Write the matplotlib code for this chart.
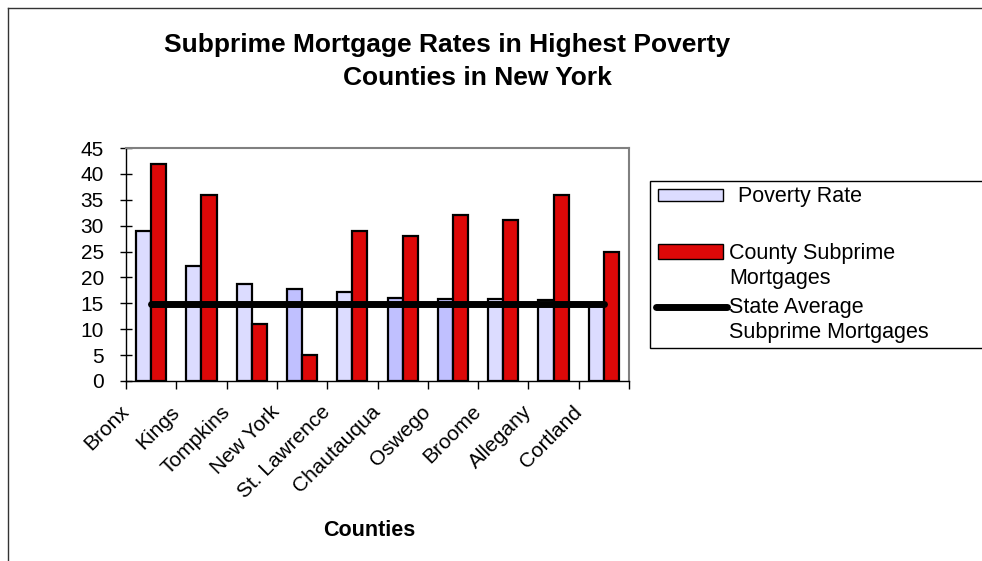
import matplotlib.pyplot as plt
import matplotlib.transforms as mtransforms
from matplotlib.patches import Rectangle
from matplotlib.lines import Line2D
import numpy as np

# chart data
counties = ['Bronx', 'Kings', 'Tompkins', 'New York', 'St. Lawrence',
            'Chautauqua', 'Oswego', 'Broome', 'Allegany', 'Cortland']
poverty_rate = [29.0, 22.3, 18.7, 17.8, 17.2, 16.1, 15.9, 15.8, 15.7, 15.0]
county_subprime = [42, 36, 11, 5, 29, 28, 32, 31, 36, 25]
state_average = [14.8] * len(counties)
yticks = [0, 5, 10, 15, 20, 25, 30, 35, 40, 45]

light = '#DCDCFF'
darker = '#C0C0FF'
poverty_colors = [light, light, light, darker, light, darker, darker, light, light, light]
red = '#DD0808'

plt.rcParams['font.family'] = ['Liberation Sans', 'DejaVu Sans']

W, H = 982, 561
fig = plt.figure(figsize=(W / 100, H / 100), dpi=100)


def fx(px):
    return px / W


def fy(py):
    return 1 - py / H


# outer chart border (only top/left visible in the crop)
fig.add_artist(Line2D([fx(8), 1.0], [fy(8), fy(8)], color='#333333', lw=1.0))
fig.add_artist(Line2D([fx(8), fx(8)], [0, fy(8)], color='#333333', lw=1.0))

ax = fig.add_axes([fx(126), fy(381), fx(629 - 126), (381 - 148) / H])

x = np.arange(len(counties))
bw = 0.3
ax.bar(x - bw / 2, poverty_rate, width=bw, color=poverty_colors,
       edgecolor='black', linewidth=1.6, zorder=2)
ax.bar(x + bw / 2, county_subprime, width=bw, color=red,
       edgecolor='black', linewidth=1.6, zorder=2)
ax.plot(x, state_average, color='black', lw=5, solid_capstyle='round', zorder=3)

ax.set_xlim(-0.5, len(counties) - 0.5)
ax.set_ylim(0, 45)
ax.set_yticks(yticks)
ax.tick_params(axis='y', labelsize=15, length=8, width=1, direction='inout', pad=12)

# category ticks sit between the groups
ax.set_xticks(np.arange(len(counties) + 1) - 0.5)
ax.set_xticklabels([])
ax.tick_params(axis='x', length=6, width=1, direction='out')
ax.set_xticks(x, minor=True)
ax.set_xticklabels(counties, minor=True, rotation=45, ha='right', va='center',
                   rotation_mode='anchor', fontsize=15)
ax.tick_params(axis='x', which='minor', length=0, pad=20)
shift = mtransforms.ScaledTranslation(-25 / 100, 0, fig.dpi_scale_trans)
for lbl in ax.xaxis.get_minorticklabels():
    lbl.set_transform(lbl.get_transform() + shift)

for side in ['left', 'bottom']:
    ax.spines[side].set_color('black')
    ax.spines[side].set_linewidth(1.0)
for side in ['top', 'right']:
    ax.spines[side].set_color('#808080')
    ax.spines[side].set_linewidth(1.5)

fig.text(fx(164), fy(52), 'Subprime Mortgage Rates in Highest Poverty',
         ha='left', va='baseline', fontsize=19, fontweight='bold')
fig.text(fx(343), fy(85), 'Counties in New York',
         ha='left', va='baseline', fontsize=19, fontweight='bold')
fig.text(fx(369), fy(531), 'Counties', ha='center', va='center',
         fontsize=15.5, fontweight='bold')

# legend box, laid out like the spreadsheet one (handle on first text line)
fig.add_artist(Rectangle((fx(650), fy(348)), fx(345), (348 - 181) / H,
                         transform=fig.transFigure, facecolor='white',
                         edgecolor='black', lw=1.0))
fig.add_artist(Rectangle((fx(658), fy(201)), fx(65), 12 / H,
                         transform=fig.transFigure, facecolor=light,
                         edgecolor='black', lw=1.0))
fig.add_artist(Rectangle((fx(658), fy(259)), fx(65), 15 / H,
                         transform=fig.transFigure, facecolor=red,
                         edgecolor='black', lw=1.0))
fig.add_artist(Line2D([fx(656), fx(727)], [fy(307), fy(307)], color='black',
                      lw=5, solid_capstyle='round'))
leg_kw = dict(ha='left', va='center', fontsize=15.5, linespacing=1.2)
fig.text(fx(738), fy(197), 'Poverty Rate', **leg_kw)
fig.text(fx(729), fy(266), 'County Subprime\nMortgages', **leg_kw)
fig.text(fx(729), fy(320), 'State Average\nSubprime Mortgages', **leg_kw)

fig.savefig('out.png', dpi=100)
